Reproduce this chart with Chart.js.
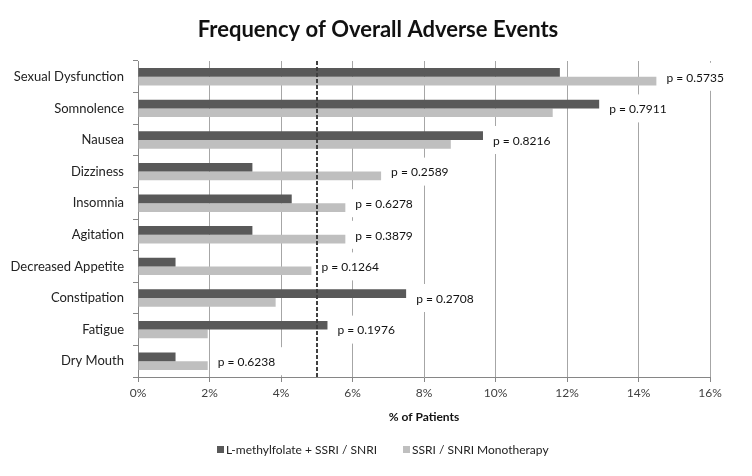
<!DOCTYPE html>
<html>
<head>
<meta charset="utf-8">
<script src="https://cdn.jsdelivr.net/npm/chart.js@4"></script>
<style>
html, body { margin: 0; padding: 0; background: #fff; }
#wrap { width: 752px; height: 476px; }
</style>
</head>
<body>
<div id="wrap"><canvas id="chart"></canvas></div>
<script>
// Data (% of patients)
const categories = ['Sexual Dysfunction', 'Somnolence', 'Nausea', 'Dizziness', 'Insomnia',
    'Agitation', 'Decreased Appetite', 'Constipation', 'Fatigue', 'Dry Mouth'];
const comboValues = [11.8, 12.9, 9.65, 3.2, 4.3, 3.2, 1.05, 7.5, 5.3, 1.05];
const monoValues = [14.5, 11.6, 8.75, 6.8, 5.8, 5.8, 4.85, 3.85, 1.95, 1.95];
const pValues = ['0.5735', '0.7911', '0.8216', '0.2589', '0.6278', '0.3879', '0.1264', '0.2708', '0.1976', '0.6238'];
const seriesNames = ['L-methylfolate + SSRI / SNRI', 'SSRI / SNRI Monotherapy'];
const referenceLine = 5;
const chartTitle = 'Frequency of Overall Adverse Events';

const FONT = 'Lato';

// p-value labels with a white box, placed right of the longer bar
const pLabels = {
    id: 'pLabels',
    afterDatasetsDraw(chart) {
        const { ctx, scales: { x, y } } = chart;
        ctx.save();
        ctx.font = '12px ' + FONT;
        ctx.textBaseline = 'middle';
        pValues.forEach((p, i) => {
            const text = 'p = ' + p;
            const xEnd = x.getPixelForValue(Math.max(comboValues[i], monoValues[i]));
            const yc = y.getPixelForValue(i);
            const w = ctx.measureText(text).width;
            ctx.fillStyle = '#fff';
            ctx.fillRect(xEnd + 5, yc - 14, w + 12, 28);
            ctx.fillStyle = '#111';
            ctx.fillText(text, xEnd + 10, yc + 1);
        });
        ctx.restore();
    }
};

// dashed reference line at 5%
const refLine = {
    id: 'refLine',
    afterDatasetsDraw(chart) {
        const { ctx, chartArea, scales: { x } } = chart;
        const px = Math.round(x.getPixelForValue(referenceLine));
        ctx.save();
        ctx.strokeStyle = '#404040';
        ctx.lineWidth = 2;
        ctx.setLineDash([4, 2]);
        ctx.beginPath();
        ctx.moveTo(px, chartArea.top);
        ctx.lineTo(px, chartArea.bottom);
        ctx.stroke();
        ctx.restore();
    }
};

// title centred on the whole canvas, legend under the axis title
const titleAndLegend = {
    id: 'titleAndLegend',
    afterDraw(chart) {
        const { ctx } = chart;
        ctx.save();
        ctx.font = 'bold 22px ' + FONT;
        ctx.textAlign = 'center';
        ctx.textBaseline = 'middle';
        ctx.fillStyle = '#111';
        ctx.fillText(chartTitle, chart.width / 2 + 2, 30);

        const starts = [217, 403];
        ctx.font = '12px ' + FONT;
        ctx.textAlign = 'left';
        chart.data.datasets.forEach((ds, i) => {
            ctx.fillStyle = ds.backgroundColor;
            ctx.fillRect(starts[i], 446, 7, 7);
            ctx.fillStyle = '#222';
            ctx.fillText(ds.label, starts[i] + 9, 450);
        });
        ctx.restore();
    }
};

new Chart(document.getElementById('chart'), {
    type: 'bar',
    data: {
        labels: categories,
        datasets: [
            { label: seriesNames[0], data: comboValues, backgroundColor: '#595959' },
            { label: seriesNames[1], data: monoValues, backgroundColor: '#bfbfbf' }
        ]
    },
    options: {
        indexAxis: 'y',
        responsive: true,
        maintainAspectRatio: false,
        animation: false,
        datasets: { bar: { barPercentage: 1, categoryPercentage: 0.55 } },
        layout: { padding: { left: 0, right: 42, top: 61, bottom: 48 } },
        plugins: {
            legend: { display: false },
            tooltip: { enabled: false },
            title: { display: false }
        },
        scales: {
            x: {
                min: 0,
                max: 16,
                ticks: {
                    stepSize: 2,
                    padding: 4,
                    color: '#404040',
                    font: { family: FONT, size: 12 },
                    callback: v => v + '%'
                },
                grid: { color: '#a6a6a6', tickColor: '#868686', tickLength: 5 },
                border: { color: '#868686' },
                title: {
                    display: true,
                    text: '% of Patients',
                    color: '#111',
                    font: { family: FONT, size: 12, weight: 'bold', lineHeight: 1.2 },
                    padding: { top: 0, bottom: 4 }
                },
                afterFit(scale) { scale.height = 51; }
            },
            y: {
                ticks: {
                    padding: 9,
                    color: '#222',
                    font: { family: FONT, size: 13 }
                },
                grid: { offset: true, drawOnChartArea: false, color: '#868686', tickLength: 5 },
                border: { color: '#868686' },
                afterFit(scale) { scale.width = 138; }
            }
        }
    },
    plugins: [pLabels, refLine, titleAndLegend]
});
</script>
</body>
</html>
